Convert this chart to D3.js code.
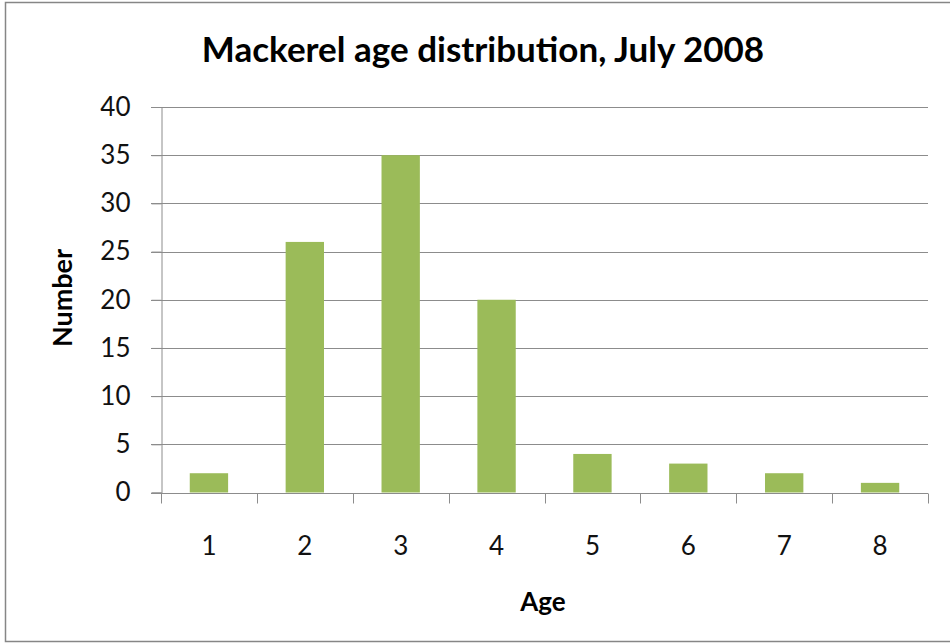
<!DOCTYPE html>
<html>
<head>
<meta charset="utf-8">
<script src="https://cdn.jsdelivr.net/npm/d3@7"></script>
<style>
  html, body { margin: 0; padding: 0; background: #fff; }
  svg { display: block; }
</style>
</head>
<body>
<svg id="chart" width="950" height="643"></svg>
<script>
// Age classes and counts of mackerel
const ages = ["1", "2", "3", "4", "5", "6", "7", "8"];
const counts = [2, 26, 35, 20, 4, 3, 2, 1];
const yTicks = [0, 5, 10, 15, 20, 25, 30, 35, 40];

const titleText = "Mackerel age distribution, July 2008";
const xTitle = "Age";
const yTitle = "Number";

const svg = d3.select("#chart");
const font = "Lato, 'Open Sans', sans-serif";

// outer chart frame
svg.append("rect")
  .attr("x", 5.5).attr("y", 2.5)
  .attr("width", 960).attr("height", 639)
  .attr("fill", "#fff")
  .attr("stroke", "#868686").attr("stroke-width", 1.5);

const plot = { left: 161, right: 928, top: 107, bottom: 492.5 };

const x = d3.scaleBand()
  .domain(ages)
  .range([plot.left, plot.right])
  .paddingInner(0.6)
  .paddingOuter(0.3);

const y = d3.scaleLinear()
  .domain([0, 40])
  .range([plot.bottom, plot.top]);

// horizontal gridlines
svg.append("g")
  .selectAll("line")
  .data(yTicks.filter(d => d > 0))
  .join("line")
  .attr("x1", plot.left - 10).attr("x2", plot.right)
  .attr("y1", d => Math.round(y(d)) + 0.5).attr("y2", d => Math.round(y(d)) + 0.5)
  .attr("stroke", "#8c8c8c").attr("stroke-width", 1);

// bars
svg.append("g")
  .selectAll("rect")
  .data(ages.map((a, i) => ({ age: a, n: counts[i] })))
  .join("rect")
  .attr("x", d => x(d.age))
  .attr("width", x.bandwidth())
  .attr("y", d => y(d.n))
  .attr("height", d => y(0) - y(d.n))
  .attr("fill", "#9bbb59");

// y axis
const yAxis = svg.append("g")
  .attr("transform", `translate(${plot.left + 0.5},0)`)
  .call(d3.axisLeft(y).tickValues(yTicks).tickSize(10).tickPadding(21));
yAxis.select(".domain").attr("stroke", "#8c8c8c");
yAxis.selectAll(".tick line").attr("stroke", "#8c8c8c");
yAxis.selectAll(".tick text")
  .attr("font-family", font).attr("font-size", 26).attr("fill", "#111");

// x axis: ticks fall on category boundaries
const xAxis = svg.append("g")
  .attr("transform", `translate(0,${Math.round(plot.bottom) + 0.5})`);
xAxis.append("line")
  .attr("x1", plot.left - 10).attr("x2", plot.right)
  .attr("stroke", "#8c8c8c");
const bounds = d3.range(ages.length + 1).map(i => plot.left + i * (plot.right - plot.left) / ages.length);
xAxis.selectAll("line.tk")
  .data(bounds)
  .join("line").attr("class", "tk")
  .attr("x1", d => Math.round(d) + 0.5).attr("x2", d => Math.round(d) + 0.5)
  .attr("y1", 0).attr("y2", 10)
  .attr("stroke", "#8c8c8c");
xAxis.selectAll("text")
  .data(ages)
  .join("text")
  .attr("x", d => x(d) + x.bandwidth() / 2)
  .attr("y", 61)
  .attr("text-anchor", "middle")
  .attr("font-family", font).attr("font-size", 26).attr("fill", "#111")
  .text(d => d);

// titles
svg.append("text")
  .attr("x", 483).attr("y", 62)
  .attr("text-anchor", "middle")
  .attr("font-family", font).attr("font-weight", "bold").attr("font-size", 35)
  .attr("fill", "#000")
  .text(titleText);

svg.append("text")
  .attr("x", 543).attr("y", 611)
  .attr("text-anchor", "middle")
  .attr("font-family", font).attr("font-weight", "bold").attr("font-size", 26)
  .attr("fill", "#000")
  .text(xTitle);

svg.append("text")
  .attr("transform", "translate(72,298) rotate(-90)")
  .attr("text-anchor", "middle")
  .attr("font-family", font).attr("font-weight", "bold").attr("font-size", 27)
  .attr("fill", "#000")
  .text(yTitle);
</script>
</body>
</html>
